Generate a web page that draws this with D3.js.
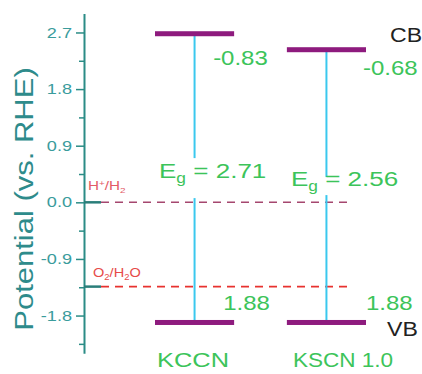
<!DOCTYPE html>
<html>
<head>
<meta charset="utf-8">
<script src="https://cdn.jsdelivr.net/npm/d3@7"></script>
<style>
  body { margin: 0; background: #fff; }
  text { font-family: "Liberation Sans", Arial, sans-serif; }
</style>
</head>
<body>
<svg id="chart" width="422" height="374"></svg>
<script>
// Band edge potentials (V vs. RHE) for each sample
const samples = ["KCCN", "KSCN 1.0"];
const cbPotential = [-0.83, -0.68];
const vbPotential = [1.88, 1.88];

// Axis ticks
const majorTicks = [2.7, 1.8, 0.9, 0.0, -0.9, -1.8];
const minorTicks = [2.25, 1.35, 0.45, -0.45, -1.35, -2.25];

// Reference redox levels drawn as dashed lines
const redoxLevels = [0.0, -1.34];
const redoxLabels = [
  [["H", ""], ["+", "sup"], ["/H", ""], ["2", "sub"]],
  [["O", ""], ["2", "sub"], ["/H", ""], ["2", "sub"], ["O", ""]]
];

// ---- layout ----
const W = 422, H = 374;
const axisX = 84;
const stretch = 1.2;           // horizontal widening of the lettering
const green = "#3cc45a";
const teal = "#2b8c86";

const svg = d3.select("#chart");

const y = d3.scaleLinear().domain([-2.4, 3.0]).range([353.3, 13.6]);

// band edges are laid out on their own linear scale, pinned to the axis
const edgeExtent = d3.extent(cbPotential.concat(vbPotential));
const edge = d3.scaleLinear().domain(edgeExtent).range([y(2.68), y(-1.91)]);

const x = d3.scaleBand().domain(samples).range([155, 366])
  .paddingInner(0.4).paddingOuter(0);
const bw = x.bandwidth();

// ---- axis ----
const gAxis = svg.append("g").attr("transform", `translate(${axisX},0)`);
gAxis.call(d3.axisLeft(y).tickValues(majorTicks).tickSize(8).tickSizeOuter(0)
  .tickPadding(4).tickFormat(d => d.toFixed(1)));
gAxis.select(".domain").attr("stroke", teal).attr("stroke-width", 2);
gAxis.selectAll(".tick line").attr("stroke", teal).attr("stroke-width", 1.5);
gAxis.selectAll(".tick text")
  .attr("x", 0)
  .attr("transform", `translate(-12,0) scale(${stretch + 0.05},1)`)
  .attr("fill", "#3a9c9c")
  .attr("font-size", 14.5)
  .attr("font-family", "Liberation Sans, Arial, sans-serif");

const gMinor = svg.append("g").attr("transform", `translate(${axisX},0)`);
gMinor.call(d3.axisLeft(y).tickValues(minorTicks).tickSize(5).tickFormat(""));
gMinor.select(".domain").remove();
gMinor.selectAll(".tick line").attr("stroke", teal).attr("stroke-width", 1.5);

// axis title
svg.append("text")
  .attr("transform", `translate(33,199) rotate(-90) scale(1.17,1)`)
  .attr("text-anchor", "middle")
  .attr("font-size", 26.5)
  .attr("fill", "#2e8b8b")
  .text("Potential (vs. RHE)");

// ---- redox reference lines ----
const redoxLine = ["#a5476f", "#e8322f"];
const redoxText = ["#e35a66", "#e64a48"];
const lineStart = 101, lineEnd = 349;

svg.selectAll(".redox").data(redoxLevels).join("line")
  .attr("class", "redox")
  .attr("x1", lineStart).attr("x2", lineEnd)
  .attr("y1", d => y(d)).attr("y2", d => y(d))
  .attr("stroke", (d, i) => redoxLine[i])
  .attr("stroke-width", 1.6)
  .attr("stroke-dasharray", "8,6");

svg.selectAll(".redoxStub").data(redoxLevels).join("line")
  .attr("class", "redoxStub")
  .attr("x1", axisX).attr("x2", lineStart)
  .attr("y1", d => y(d)).attr("y2", d => y(d))
  .attr("stroke", "#2a7e7a").attr("stroke-width", 2.5);

const redoxLabelPos = [[88, -12.5, 12.5], [93, -10, 13]];
redoxLevels.forEach((lvl, i) => {
  const [lx, dy, fs] = redoxLabelPos[i];
  const t = svg.append("text")
    .attr("transform", `translate(${lx},${y(lvl) + dy}) scale(${i ? 1.12 : 1.22},1)`)
    .attr("font-size", fs)
    .attr("fill", redoxText[i]);
  let shift = 0;
  redoxLabels[i].forEach(([s, kind]) => {
    const target = kind === "sup" ? -4 : kind === "sub" ? 3 : 0;
    t.append("tspan")
      .attr("dy", target - shift)
      .attr("font-size", kind ? fs * 0.65 : fs)
      .text(s);
    shift = target;
  });
});

// ---- band gap connectors ----
const egGap = [20, 9];
const mid = i => (edge(cbPotential[i]) + edge(vbPotential[i])) / 2;

samples.forEach((s, i) => {
  const cx = x(s) + bw / 2;
  const m = mid(i);
  const g = svg.append("g").attr("stroke", "#3ac8ee").attr("stroke-width", 2);
  g.append("line").attr("x1", cx).attr("x2", cx)
    .attr("y1", edge(cbPotential[i])).attr("y2", m - egGap[i]);
  g.append("line").attr("x1", cx).attr("x2", cx)
    .attr("y1", m + egGap[i]).attr("y2", edge(vbPotential[i]));
});

// ---- CB / VB bars ----
const barColor = "#8e1b7e";
svg.selectAll(".cb").data(samples).join("rect")
  .attr("class", "cb")
  .attr("x", d => x(d)).attr("width", bw)
  .attr("y", (d, i) => edge(cbPotential[i]) - 2.5).attr("height", 5)
  .attr("fill", barColor);
svg.selectAll(".vb").data(samples).join("rect")
  .attr("class", "vb")
  .attr("x", d => x(d)).attr("width", bw)
  .attr("y", (d, i) => edge(vbPotential[i]) - 2.5).attr("height", 5)
  .attr("fill", barColor);

// ---- value labels ----
const fmt = v => v.toFixed(2);
const cbLabelOffset = [[-21, 31], [-3, 25]];
const vbLabelOffset = [[-11, -12], [0, -12]];

function label(tx, ty, str, size, color, sx) {
  return svg.append("text")
    .attr("transform", `translate(${tx},${ty}) scale(${sx || stretch},1)`)
    .attr("font-size", size)
    .attr("fill", color)
    .text(str);
}

samples.forEach((s, i) => {
  const xr = x(s) + bw;
  label(xr + cbLabelOffset[i][0], edge(cbPotential[i]) + cbLabelOffset[i][1],
        fmt(cbPotential[i]), 20, green);
  label(xr + vbLabelOffset[i][0], edge(vbPotential[i]) + vbLabelOffset[i][1],
        fmt(vbPotential[i]), 20, green);

  // Eg = VB - CB
  const eg = svg.append("text")
    .attr("transform", `translate(${x(s) + 4},${mid(i)}) scale(1.24,1)`)
    .attr("font-size", 21)
    .attr("fill", green);
  eg.append("tspan").text("E");
  eg.append("tspan").attr("font-size", 14).attr("dy", 5).text("g");
  eg.append("tspan").attr("dy", -5).text(" = " + fmt(vbPotential[i] - cbPotential[i]));

  // sample name
  label(x(s) + (i ? 6 : 2), 366.5, s, 20.5, green, i ? 1.1 : 1.24);
});

// band labels beside the last sample
const last = samples.length - 1;
const xrLast = x(samples[last]) + bw;
label(xrLast + 24, edge(cbPotential[last]) - 8, "CB", 21, "#222", 1.1);
label(xrLast + 21, edge(vbPotential[last]) + 13.5, "VB", 21, "#222", 1.1);
</script>
</body>
</html>
